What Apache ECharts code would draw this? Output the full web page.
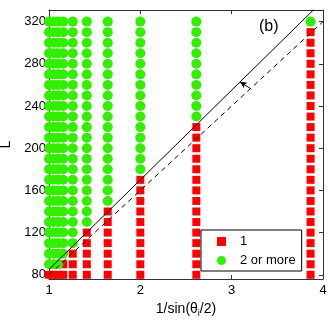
<!DOCTYPE html>
<html>
<head>
<meta charset="utf-8">
<script src="https://cdn.jsdelivr.net/npm/echarts@6/dist/echarts.min.js"></script>
<style>
html, body { margin: 0; padding: 0; background: #fff; }
#chart { width: 332px; height: 329px; }
</style>
</head>
<body>
<div id="chart"></div>
<script>
// columns: 1/sin(theta_i/2)
const xCols = [1, 1.05, 1.1, 1.155, 1.26, 1.414, 1.643, 2, 2.613, 3.864];
// L values sampled per column
const lValues = [80, 90, 100, 110, 120, 130, 140, 150, 160, 170, 180, 190, 200,
  210, 220, 230, 240, 250, 260, 270, 280, 290, 300, 310, 320];
// highest L that still gives one (red) outcome, per column
const redTop = [80, 80, 80, 90, 100, 120, 140, 170, 220, 310];
const yTicks = [80, 120, 160, 200, 240, 280, 320];
const xTicks = [1, 2, 3, 4];
const solidLine = [[1, 85], [3.9, 331.5]];
const dashedLine = [[1, 80], [4, 320]];
const arrow = [[3.215, 256], [3.09, 263]];

const FONT = "'Liberation Sans', Arial, sans-serif";

const oneData = [];
const moreData = [];
xCols.forEach((x, i) => {
  lValues.forEach(l => {
    if (l <= redTop[i]) oneData.push([x, l]);
    else moreData.push([x, l]);
  });
});

const chart = echarts.init(document.getElementById('chart'));

const axisCommon = {
  axisLine: { show: true, onZero: false, lineStyle: { color: '#333', width: 1 } },
  axisTick: { show: true, inside: true, length: 4, lineStyle: { color: '#333' } },
  splitLine: { show: false }
};

chart.setOption({
  animation: false,
  backgroundColor: '#fff',
  grid: { left: 49, right: 9, top: 10, bottom: 50, outerBoundsMode: 'none', containLabel: false },
  xAxis: [
    Object.assign({}, axisCommon, {
      type: 'value', min: xTicks[0], max: xTicks[xTicks.length - 1], interval: 1,
      position: 'bottom',
      axisLabel: { color: '#000', fontSize: 13, fontFamily: FONT, margin: 5 },
      name: '1/sin(θ{sub|i}/2)',
      nameLocation: 'middle',
      nameGap: 20,
      nameTextStyle: {
        color: '#000', fontSize: 14, fontFamily: FONT,
        rich: { sub: { fontSize: 9, fontFamily: FONT, color: '#000', padding: [9, 0, 0, 0] } }
      }
    }),
    Object.assign({}, axisCommon, {
      type: 'value', min: xTicks[0], max: xTicks[xTicks.length - 1], interval: 1,
      position: 'top',
      axisLabel: { show: false }
    })
  ],
  yAxis: [
    Object.assign({}, axisCommon, {
      type: 'value', min: 76, max: 331,
      position: 'left',
      axisTick: { show: true, inside: true, length: 4, lineStyle: { color: '#333' }, customValues: yTicks },
      axisLabel: { color: '#000', fontSize: 13, fontFamily: FONT, margin: 3, customValues: yTicks },
      name: 'L',
      nameLocation: 'middle',
      nameGap: 34,
      nameRotate: 90,
      nameTextStyle: { color: '#000', fontSize: 14, fontFamily: FONT }
    }),
    Object.assign({}, axisCommon, {
      type: 'value', min: 76, max: 331,
      position: 'right',
      axisTick: { show: true, inside: true, length: 4, lineStyle: { color: '#333' }, customValues: yTicks },
      axisLabel: { show: false, customValues: yTicks }
    })
  ],
  legend: {
    orient: 'vertical',
    left: 201, top: 230,
    padding: [5, 6, 4, 16],
    itemGap: 6,
    itemWidth: 9, itemHeight: 9,
    backgroundColor: '#fff',
    borderColor: '#000', borderWidth: 1, borderRadius: 0,
    textStyle: { color: '#000', fontSize: 13, fontFamily: FONT, padding: [0, 0, 0, 9] },
    data: [{ name: '1', icon: 'rect' }, { name: '2 or more', icon: 'circle' }]
  },
  graphic: [{
    type: 'text', left: 259, top: 19,
    style: { text: '(b)', fontSize: 16, fontFamily: FONT, fill: '#000' }
  }],
  series: [
    {
      name: '1', type: 'scatter', symbol: 'rect', symbolSize: 8,
      itemStyle: { color: '#ff0000', opacity: 1 },
      data: oneData, z: 2
    },
    {
      name: '2 or more', type: 'scatter', symbol: 'circle', symbolSize: 10,
      itemStyle: { color: '#33ee00', opacity: 1 },
      data: moreData, z: 3
    },
    {
      name: 'solid', type: 'line', showSymbol: false, symbol: 'none',
      data: solidLine, clip: true, z: 5,
      lineStyle: { color: '#000', width: 1 },
      markLine: {
        silent: true, symbol: ['none', 'arrow'], symbolSize: [5, 7],
        label: { show: false },
        lineStyle: { color: '#000', width: 1, type: 'solid' },
        data: [[{ coord: arrow[0] }, { coord: arrow[1] }]]
      }
    },
    {
      name: 'dashed', type: 'line', showSymbol: false, symbol: 'none',
      data: dashedLine, clip: true, z: 5,
      lineStyle: { color: '#000', width: 1, type: [5, 4] }
    }
  ]
});
</script>
</body>
</html>
